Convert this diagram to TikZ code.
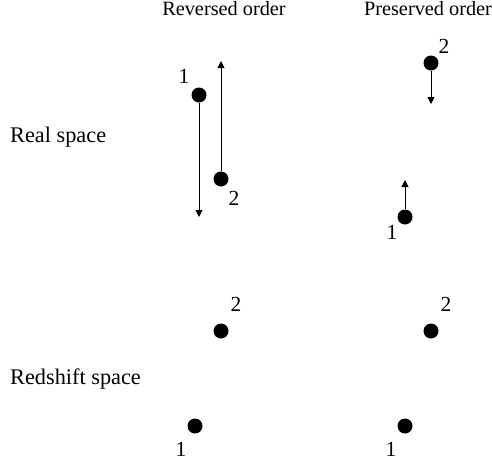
\documentclass[tikz,border=0pt]{standalone}
\usepackage{fontspec}
\setmainfont{Liberation Serif}
\usetikzlibrary{arrows.meta}
\begin{document}
\begin{tikzpicture}[x=1pt,y=-1pt,
  dot/.style={circle,fill=black,inner sep=0pt,minimum size=15pt},
  lbl/.style={font=\fontsize{20.3}{24}\selectfont,inner sep=0pt},
  side/.style={font=\fontsize{22.3}{26}\selectfont,inner sep=0pt},
  num/.style={font=\fontsize{21.5}{24}\selectfont,inner sep=0pt},
  vel/.style={line width=0.9pt,-{Triangle[length=7pt,width=7pt]}}]
\path[use as bounding box] (0,0) rectangle (492,463);
% headings
\node[lbl,anchor=base] (h1) at (224,15) {Reversed order};
\node[lbl,anchor=base] (h2) at (428,15) {Preserved order};
\node[side,anchor=base west] (rs) at (10,142) {Real space};
\node[side,anchor=base west] (zs) at (10,384) {Redshift space};
% real space, reversed
\node[dot] (a1) at (199,95) {};
\node[num] (a1l) at (184,76) {1};
\coordinate (a1e) at (199,217);
\draw[vel] (a1) -- (a1e);
\node[dot] (a2) at (221,179) {};
\node[num] (a2l) at (234,198) {2};
\coordinate (a2e) at (221,61);
\draw[vel] (a2) -- (a2e);
% real space, preserved
\node[dot] (b2) at (431,63) {};
\node[num] (b2l) at (444,46) {2};
\coordinate (b2e) at (431,104);
\draw[vel] (b2) -- (b2e);
\node[dot] (b1) at (405,217) {};
\node[num] (b1l) at (392,232) {1};
\coordinate (b1e) at (405,180);
\draw[vel] (b1) -- (b1e);
% redshift space
\node[dot] (c2) at (221,331) {};
\node[num] (c2l) at (236,304) {2};
\node[dot] (c1) at (195,426) {};
\node[num] (c1l) at (181,449) {1};
\node[dot] (d2) at (431,331) {};
\node[num] (d2l) at (446,304) {2};
\node[dot] (d1) at (405,426) {};
\node[num] (d1l) at (391,449) {1};
\end{tikzpicture}
\end{document}
